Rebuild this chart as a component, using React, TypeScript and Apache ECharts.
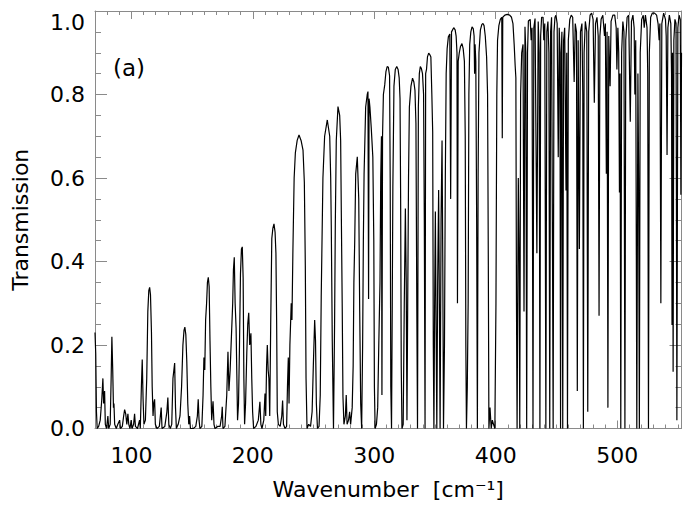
import React, { useEffect, useRef } from "react";
import * as echarts from "echarts";

const FONT = "DejaVu Sans";

// Wavenumber range and tick values
const xRange = [70, 553];
const xMajorTicks = [100, 200, 300, 400, 500];
const yTicks = [0, 0.2, 0.4, 0.6, 0.8, 1.0];

// Transmission spectrum: [wavenumber, transmission]
const spectrum70to153: number[][] = [
  [70, 0.23], [70.6, 0.18], [71.2, 0.04], [71.8, 0], [73, 0.005], [74.3, 0.02], [75.6, 0.07], [76.5, 0.12],
  [77.1, 0.06], [77.9, 0.09], [78.5, 0.01], [79.5, 0], [80.6, 0.03], [81.3, 0], [82.5, 0.01], [83.3, 0.12],
  [83.9, 0.22], [84.6, 0.14], [85.2, 0.05], [85.6, 0.06], [86.2, 0.01], [87.5, 0], [88.8, 0.01], [90.3, 0.02],
  [91, 0], [92.5, 0.005], [93.6, 0.03], [94.4, 0.045], [95.3, 0.035], [96.2, 0.01], [97.1, 0.035], [97.8, 0.01],
  [98.8, 0], [99.8, 0.02], [100.5, 0], [101.8, 0.01], [102.6, 0.035], [103.3, 0.005], [105, 0], [106.7, 0.02],
  [107.3, 0], [108.2, 0.1], [108.9, 0.165], [109.6, 0.07], [110.3, 0.01], [111.5, 0.02], [112.6, 0.12],
  [113.5, 0.28], [114.3, 0.33], [115, 0.338], [115.7, 0.32], [116.5, 0.23], [117.1, 0.1], [117.8, 0.03],
  [118.4, 0.06], [119.1, 0.07], [119.7, 0.01], [121, 0], [123, 0.005], [124.5, 0.05], [125.2, 0], [127.5, 0.005],
  [129.2, 0.04], [130, 0.074], [130.8, 0.01], [132, 0], [133.2, 0.01], [134.2, 0.12], [135.6, 0.157],
  [136.3, 0.05], [137, 0], [138.5, 0.01], [140, 0.03], [141.3, 0.1], [142.4, 0.2], [143.3, 0.235], [144, 0.243],
  [144.8, 0.225], [145.6, 0.16], [146.4, 0.06], [147.2, 0.01], [147.9, 0.03], [148.6, 0], [151, 0], [153, 0.005],
];

const spectrum154to228: number[][] = [
  [154.3, 0.03], [155, 0.07], [155.7, 0.02], [156.4, 0], [158, 0.005], [159, 0.08], [159.7, 0.17], [160.4, 0.14],
  [161.1, 0.26], [161.9, 0.3], [162.6, 0.35], [163.3, 0.362], [164, 0.34], [164.7, 0.21], [165.4, 0.1],
  [166.1, 0.02], [167.2, 0.065], [168, 0.01], [168.8, 0], [171, 0.005], [173, 0.005], [174.3, 0.03],
  [174.8, 0.052], [175.4, 0], [177, 0.005], [178.5, 0.08], [179.5, 0.184], [180.3, 0.09], [181.3, 0.14],
  [182.5, 0.232], [183.4, 0.3], [184, 0.38], [184.7, 0.41], [185.4, 0.3], [186.2, 0.24], [186.8, 0.13],
  [187.4, 0.02], [188.2, 0.06], [189, 0.2], [189.8, 0.37], [190.6, 0.43], [191.3, 0.435], [192, 0.36],
  [192.6, 0.12], [193.2, 0.01], [194, 0.06], [195, 0.18], [195.8, 0.25], [196.6, 0.277], [197.4, 0.2],
  [198.4, 0.228], [199.1, 0.12], [199.8, 0.04], [200.6, 0], [202.5, 0.005], [204.5, 0.02], [205.8, 0.064],
  [206.6, 0.01], [207.5, 0], [209, 0.02], [210, 0.084], [210.6, 0.03], [211.3, 0.15], [211.9, 0.2],
  [212.6, 0.14], [213.2, 0.12], [213.9, 0.03], [214.7, 0.25], [215.6, 0.455], [216.5, 0.48], [217.4, 0.49],
  [218.3, 0.47], [219, 0.42], [219.6, 0.25], [220.1, 0.04], [221, 0.01], [222.5, 0.005], [223.8, 0.03],
  [224.5, 0.067], [225.2, 0.01], [226.5, 0], [227.8, 0.005],
];

const spectrum228to301: number[][] = [
  [228.5, 0.1], [229.2, 0.17], [229.8, 0.06], [230.5, 0.2], [231.6, 0.3], [232.2, 0.26], [233, 0.43],
  [234, 0.6], [235, 0.66], [236.5, 0.69], [238, 0.703], [239.7, 0.69], [241.3, 0.667], [242.4, 0.59],
  [243.2, 0.39], [243.8, 0.12], [244.6, 0], [246, 0.01], [247.5, 0.005], [248.8, 0.04], [249.8, 0.15],
  [250.9, 0.26], [251.6, 0.21], [252.3, 0.06], [253.2, 0], [254.5, 0.005], [255.5, 0.08], [256.3, 0.315],
  [257.7, 0.6], [259.1, 0.7], [261.3, 0.739], [263.3, 0.7], [264.1, 0.6], [264.6, 0.48], [265.4, 0.21],
  [266.4, 0], [267.3, 0.25], [267.9, 0.49], [268.7, 0.69], [270.1, 0.771], [271.5, 0.75], [272.3, 0.69],
  [272.8, 0.53], [273.6, 0.29], [274.2, 0.076], [275, 0.01], [276.2, 0.03], [276.9, 0.08], [277.6, 0.01],
  [278.8, 0.02], [279.7, 0.04], [280.5, 0.01], [281.8, 0.05], [282.6, 0.15], [283.2, 0.35], [283.9, 0.45],
  [284.7, 0.61], [286, 0.651], [287.2, 0.55], [288, 0.28], [288.8, 0.06], [289.6, 0], [290.4, 0.2],
  [291, 0.45], [291.6, 0.61], [292.9, 0.77], [294.2, 0.8], [294.8, 0.807], [295.3, 0.31], [295.7, 0.79],
  [296.4, 0.77], [297.5, 0.72], [298.8, 0.65], [299.6, 0.45], [300.1, 0.1], [300.7, 0],
];

const spectrum301to400: number[][] = [
  [301.8, 0.01], [302.8, 0.05], [303.7, 0.2], [304.7, 0.35], [305.3, 0.6], [305.9, 0.7], [306.3, 0.08],
  [306.8, 0.7], [307.5, 0.8], [308.6, 0.823], [309.6, 0.855], [310.6, 0.867], [311.6, 0.865], [312.6, 0.845],
  [313.1, 0.6], [313.6, 0.1], [314.2, 0], [314.8, 0.3], [315.3, 0.58], [316.2, 0.82], [317.3, 0.86],
  [318.5, 0.867], [319.6, 0.86], [320.5, 0.84], [321.2, 0.79], [321.7, 0.55], [322.2, 0.15], [322.8, 0],
  [323.8, 0.01], [324.7, 0.3], [325.6, 0.527], [326.3, 0.35], [326.9, 0.02], [327.5, 0.29], [328.2, 0.6],
  [328.9, 0.77], [330.2, 0.82], [331.5, 0.839], [332.6, 0.83], [333.5, 0.81], [334.3, 0.73], [335, 0.3],
  [335.6, 0], [336.3, 0.77], [337.1, 0.85], [337.9, 0.867], [338.8, 0.862], [339.7, 0.85], [340.6, 0.8],
  [341.2, 0.5], [341.8, 0], [342.3, 0.85], [343, 0.86], [343.8, 0.89], [344.8, 0.899], [345.8, 0.895],
  [346.6, 0.89], [347.4, 0.8], [348.1, 0.71], [348.6, 0.2], [349.1, 0], [349.7, 0.3], [350.3, 0.52],
  [350.9, 0.25], [351.5, 0], [352.2, 0.35], [353, 0.571], [353.6, 0.3], [354.2, 0], [355, 0.5], [355.8, 0.69],
  [356.4, 0.4], [357, 0], [357.8, 0.2], [358.5, 0.6], [359.2, 0.85], [360, 0.91], [361, 0.938], [362.2, 0.945],
  [362.9, 0.55], [363.6, 0.95], [365.4, 0.96], [366.6, 0.955], [367.4, 0.94], [368.1, 0.9], [368.5, 0.3],
  [369.1, 0.88], [370, 0.9], [371, 0.915], [372.2, 0.922], [373.2, 0.91], [374.2, 0.88], [374.9, 0.7],
  [375.4, 0.2], [375.9, 0], [376.6, 0.1], [377.3, 0.3], [377.9, 0.8], [378.6, 0.92], [379.5, 0.95],
  [380.5, 0.962], [381.5, 0.958], [382.2, 0.94], [382.6, 0.85], [383, 0.92], [383.6, 0.88], [384.3, 0.5],
  [384.9, 0], [385.5, 0.6], [386.2, 0.9], [387.4, 0.955], [388.6, 0.968], [389.5, 0.97], [390.4, 0.965],
  [391.4, 0.94], [392.5, 0.89], [393.3, 0.8], [393.9, 0.4], [394.4, 0], [395.3, 0.05], [396.3, 0],
  [397.2, 0.02], [398.2, 0.01], [399.3, 0],
];

const spectrum400to553: number[][] = [
  [400.2, 0.3], [400.9, 0.8], [401.5, 0.93], [402.6, 0.965], [403.8, 0.98], [405, 0.985], [405.4, 0.695],
  [405.8, 0.985], [407.5, 0.99], [409.5, 0.992], [411.5, 0.99], [413, 0.985], [414.2, 0.97], [415.2, 0.92],
  [416, 0.87], [416.6, 0.84], [417.1, 0.3], [417.6, 0], [418.6, 0.6], [419.3, 0.4], [419.8, 0], [420.5, 0.8],
  [421.4, 0.9], [422.5, 0.92], [423.3, 0.28], [424.1, 0.962], [424.8, 0.9], [425.5, 0], [426.2, 0.9],
  [426.9, 0.976], [428.4, 0.98], [429.2, 0.93], [429.9, 0.96], [430.7, 0], [431.4, 0.96], [432.4, 0.982],
  [433.9, 0.42], [435, 0.975], [435.8, 0.9], [436.4, 0], [437, 0.94], [437.8, 0.985], [439, 0.985],
  [439.6, 0.93], [440.4, 0.97], [441.3, 0], [442.1, 0.95], [443, 0.975], [443.8, 0.9], [444.5, 0],
  [445.2, 0.95], [446, 0.985], [446.8, 0.4], [447.3, 0], [448, 0.95], [448.8, 0.985], [449.6, 0.99],
  [450.6, 0.97], [451.5, 0.65], [452.3, 0.96], [452.9, 0.9], [453.4, 0], [454, 0.9], [454.5, 0.95],
  [455.2, 0], [455.9, 0.93], [456.8, 0.96], [457.9, 0.57], [458.5, 0.9], [459.1, 0], [459.8, 0.93],
  [461, 0.98], [462.2, 0.99], [463.4, 0.985], [464.6, 0.83], [465.5, 0.97], [466.5, 0.95], [467.2, 0.09],
  [467.9, 0.93], [468.9, 0.43], [469.8, 0.95], [471, 0.97], [471.7, 0.8], [472.2, 0], [472.8, 0.9],
  [473.8, 0.975], [475, 0.95], [475.8, 0.04], [476.6, 0.95], [477.7, 0.99], [479, 0.995], [480.2, 0.98],
  [481.2, 0.78], [482.2, 0.97], [483.4, 0.985], [484.4, 0.94], [485.1, 0.27], [485.8, 0.94], [486.8, 0.98],
  [488.2, 0.99], [489.6, 0.94], [490.3, 0.97], [491.1, 0.61], [491.7, 0.95], [492.4, 0.05], [493.1, 0.94],
  [494.2, 0.82], [495, 0.975], [496.5, 0.99], [498, 0.99], [499.2, 0.96], [499.8, 0.86], [500.6, 0.96],
  [501.3, 0.9], [501.9, 0.565], [502.4, 0.85], [503, 0], [503.7, 0.9], [504.7, 0.975], [505.6, 0.95],
  [506.4, 0], [507.1, 0.93], [508.2, 0.985], [509.5, 0.99], [510.8, 0.735], [511.8, 0.975], [513, 0.99],
  [514, 0.96], [514.6, 0.8], [515.3, 0.93], [516.2, 0], [517.1, 0.85], [517.7, 0.6], [518.3, 0], [519, 0.9],
  [520.2, 0.98], [521.5, 0.99], [522.3, 0.96], [523.3, 0.99], [524.6, 0.96], [525.2, 0.85], [525.8, 0],
  [526.5, 0.9], [527.6, 0.985], [529, 0.995], [530.8, 0.995], [532.5, 0.99], [533.7, 0.97], [534.6, 0.93],
  [535.2, 0.97], [536, 0.3], [536.8, 0.97], [538.3, 0.995], [539.8, 0.98], [540.4, 0.94], [541.1, 0.655],
  [541.8, 0.96], [543, 0.99], [544.2, 0.97], [544.8, 0.85], [545.2, 0.248], [545.6, 0.9], [546.1, 0.136],
  [546.7, 0.93], [547.6, 0.98], [548.5, 0.97], [549.2, 0.02], [550, 0.96], [551, 0.99], [552, 0.98],
  [552.5, 0.56], [553, 0.9],
];

const AXIS_COLOR = "#8a8a8a";

export default function App() {
  const ref = useRef<HTMLDivElement>(null);

  useEffect(() => {
    if (!ref.current) return;
    const chart = echarts.init(ref.current, undefined, { renderer: "svg" });
    const spectrum = [
      ...spectrum70to153,
      ...spectrum154to228,
      ...spectrum228to301,
      ...spectrum301to400,
      ...spectrum400to553,
    ];

    const line = { show: true, lineStyle: { color: AXIS_COLOR, width: 1 } };
    const tickStyle = { color: AXIS_COLOR, width: 1 };
    const baseX = { type: "value", min: xRange[0], max: xRange[1], gridIndex: 0, splitLine: { show: false } };
    const baseY = {
      type: "value",
      min: yTicks[0],
      max: yTicks[yTicks.length - 1],
      interval: 0.2,
      splitLine: { show: false },
    };

    chart.setOption({
      animation: false,
      backgroundColor: "#ffffff",
      grid: { left: 95, right: 1.5, top: 11, bottom: 78.5, containLabel: false },
      xAxis: [
        {
          ...baseX,
          position: "bottom",
          axisLine: line,
          axisTick: { show: true, inside: true, length: 8, lineStyle: tickStyle, customValues: xMajorTicks },
          axisLabel: {
            show: true,
            customValues: xMajorTicks,
            fontFamily: FONT,
            fontSize: 22,
            color: "#000",
            margin: 16,
          },
          name: "Wavenumber  [cm\u207B\u00B9]",
          nameLocation: "middle",
          nameGap: 50,
          nameTextStyle: { fontFamily: FONT, fontSize: 22, color: "#000" },
        },
        {
          ...baseX,
          position: "bottom",
          interval: 10,
          axisLine: { show: false },
          axisTick: { show: true, inside: true, length: 4, lineStyle: tickStyle },
          axisLabel: { show: false },
        },
        {
          ...baseX,
          position: "top",
          axisLine: line,
          axisTick: { show: true, inside: true, length: 8, lineStyle: tickStyle, customValues: xMajorTicks },
          axisLabel: { show: false, customValues: xMajorTicks },
        },
        {
          ...baseX,
          position: "top",
          interval: 10,
          axisLine: { show: false },
          axisTick: { show: true, inside: true, length: 4, lineStyle: tickStyle },
          axisLabel: { show: false },
        },
      ],
      yAxis: [
        {
          ...baseY,
          position: "left",
          axisLine: line,
          axisTick: { show: true, inside: true, length: 12, lineStyle: tickStyle },
          minorTick: { show: true, splitNumber: 4, length: 6, lineStyle: tickStyle },
          axisLabel: {
            show: true,
            formatter: (v: number) => v.toFixed(1),
            fontFamily: FONT,
            fontSize: 22,
            color: "#000",
            margin: 10,
            verticalAlignMaxLabel: "top",
          },
          name: "Transmission",
          nameLocation: "middle",
          nameGap: 64,
          nameTextStyle: { fontFamily: FONT, fontSize: 22, color: "#000" },
        },
        {
          ...baseY,
          position: "right",
          axisLine: line,
          axisTick: { show: true, inside: true, length: 12, lineStyle: tickStyle },
          minorTick: { show: true, splitNumber: 4, length: 6, lineStyle: tickStyle },
          axisLabel: { show: false },
        },
      ],
      graphic: [
        {
          type: "text",
          left: 113,
          top: 56,
          style: { text: "(a)", fontFamily: FONT, fontSize: 23, fill: "#000" },
        },
      ],
      series: [
        {
          type: "line",
          xAxisIndex: 0,
          yAxisIndex: 0,
          data: spectrum,
          showSymbol: false,
          symbol: "none",
          smooth: false,
          clip: true,
          lineStyle: { color: "#000", width: 1.2 },
        },
      ],
    });

    return () => chart.dispose();
  }, []);

  return (
    <div
      ref={ref}
      style={{ position: "absolute", left: 0, top: 0, width: 683, height: 507 }}
    />
  );
}
